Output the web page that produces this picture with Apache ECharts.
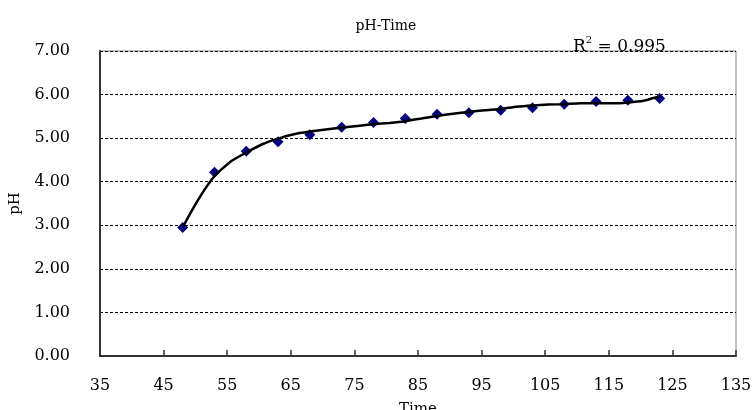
<!DOCTYPE html>
<html>
<head>
<meta charset="utf-8">
<script src="https://cdn.jsdelivr.net/npm/echarts@6/dist/echarts.min.js"></script>
<style>html,body{margin:0;padding:0;background:#fff}#c{width:753px;height:410px}</style>
</head>
<body>
<div id="c"></div>
<script>
var times = [48, 53, 58, 63, 68, 73, 78, 83, 88, 93, 98, 103, 108, 113, 118, 123];
var phValues = [2.95, 4.22, 4.70, 4.92, 5.08, 5.25, 5.36, 5.45, 5.55, 5.58, 5.64, 5.70, 5.78, 5.84, 5.87, 5.91];
var trendTimes = [48, 49, 50, 51.5, 53, 55.5, 58, 60.5, 63, 65.5, 68, 70.5, 73, 75.5, 78, 80.5, 83, 85.5, 88, 90.5, 93, 95.5, 98, 100.5, 103, 105.5, 108, 110.5, 113, 115.5, 118, 120.5, 122, 123];
var trendValues = [2.95, 3.22, 3.48, 3.83, 4.13, 4.46, 4.67, 4.86, 4.99, 5.09, 5.15, 5.20, 5.24, 5.28, 5.32, 5.35, 5.39, 5.45, 5.51, 5.56, 5.60, 5.64, 5.67, 5.72, 5.75, 5.77, 5.78, 5.80, 5.80, 5.80, 5.82, 5.86, 5.92, 5.95];
var xTicks = [35, 45, 55, 65, 75, 85, 95, 105, 115, 125, 135];
var yTicks = [0, 1, 2, 3, 4, 5, 6, 7];
var chartTitle = 'pH-Time';
var xName = 'Time';
var yName = 'pH';
var rSquared = '0.995';

var font = '"DejaVu Serif", "Liberation Serif", serif';
var chart = echarts.init(document.getElementById('c'), null, {renderer: 'canvas'});
chart.setOption({
  animation: false,
  backgroundColor: '#fff',
  title: [{
    text: chartTitle,
    left: 381, top: 14,
    textAlign: 'center',
    textStyle: {fontFamily: font, fontSize: 14, fontWeight: 'normal', color: '#000'}
  }, {
    text: '{r|R}{s|2}{r| = ' + rSquared + '}',
    left: 568, top: 30,
    textStyle: {
      fontFamily: font, fontWeight: 'normal', color: '#000',
      rich: {
        r: {fontFamily: font, fontSize: 17, color: '#000', verticalAlign: 'bottom', lineHeight: 20},
        s: {fontFamily: font, fontSize: 10, color: '#000', verticalAlign: 'top', lineHeight: 20, padding: [0, 0, 8, 0]}
      }
    }
  }],
  grid: {left: 100, right: 17, top: 51, bottom: 54, show: true, borderColor: '#888', borderWidth: 1,
         containLabel: false, outerBoundsMode: 'none'},
  xAxis: {
    type: 'value', min: xTicks[0], max: xTicks[xTicks.length - 1],
    name: xName, nameLocation: 'middle', nameGap: 46,
    nameTextStyle: {fontFamily: font, fontSize: 15, color: '#000'},
    axisLine: {show: true, onZero: false, lineStyle: {color: '#333', width: 2}},
    axisTick: {show: true, inside: true, length: 6, lineStyle: {color: '#333', width: 1.5}, customValues: xTicks},
    axisLabel: {fontFamily: font, fontSize: 16, color: '#000', margin: 22, customValues: xTicks},
    splitLine: {show: false}
  },
  yAxis: {
    type: 'value', min: yTicks[0], max: yTicks[yTicks.length - 1], interval: 1,
    name: yName, nameLocation: 'middle', nameGap: 77,
    nameTextStyle: {fontFamily: font, fontSize: 15, color: '#000'},
    axisLine: {show: true, lineStyle: {color: '#333', width: 2}},
    axisTick: {show: false},
    axisLabel: {fontFamily: font, fontSize: 16, color: '#000', margin: 30, formatter: function (v) { return v.toFixed(2); }},
    splitLine: {show: true, lineStyle: {color: '#000', type: [3, 2], width: 1}}
  },
  series: [{
    type: 'scatter',
    data: times.map(function (t, i) { return [t, phValues[i]]; }),
    symbol: 'diamond', symbolSize: 11,
    itemStyle: {color: '#000080', opacity: 1},
    z: 2
  }, {
    type: 'line',
    data: trendTimes.map(function (t, i) { return [t, trendValues[i]]; }),
    showSymbol: false, smooth: 0.15,
    lineStyle: {color: '#000', width: 2.5},
    z: 3
  }]
});
</script>
</body>
</html>
